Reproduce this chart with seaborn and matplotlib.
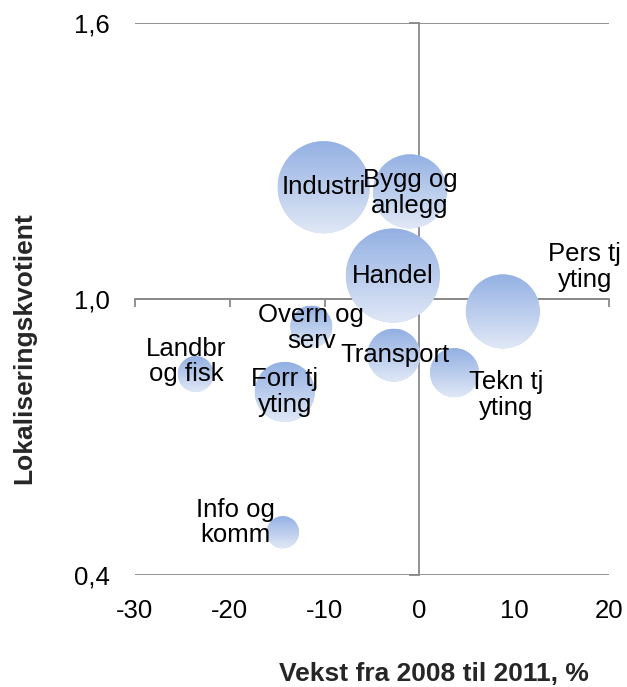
import numpy as np
import pandas as pd
import matplotlib
matplotlib.use("Agg")
import matplotlib.pyplot as plt
import seaborn as sns
from matplotlib.colors import LinearSegmentedColormap
from matplotlib.patches import Circle
from matplotlib.transforms import Affine2D, ScaledTranslation
from matplotlib.ticker import FuncFormatter

# Data
sectors = ["Industri", "Bygg og\nanlegg", "Handel", "Pers tj\nyting", "Overn og\nserv",
           "Transport", "Tekn tj\nyting", "Landbr\nog fisk", "Forr tj\nyting", "Info og\nkomm"]
growth = [-10.1, -1.0, -2.8, 8.8, -11.4, -2.7, 3.7, -23.6, -14.2, -14.4]
lq = [1.243, 1.234, 1.051, 0.973, 0.940, 0.878, 0.840, 0.837, 0.798, 0.493]
bubble = [2120, 1370, 2210, 1370, 440, 700, 600, 320, 900, 260]

x_ticks = [-30, -20, -10, 0, 10, 20]
y_ticks = [0.4, 1.0, 1.6]

# label offsets from bubble centre (points, right / up)
label_offsets = [(0, 0), (0, -1), (0, 0), (59, 32), (0, -1),
                 (1, 0), (37, -16), (-7, 9), (0, 0), (-34, 7)]

sns.set_theme(style="white")
plt.rcParams["font.family"] = ["Liberation Sans", "DejaVu Sans"]
plt.rcParams["axes.unicode_minus"] = False

grey = "#898989"
top_blue = "#93B0E3"
bottom_blue = "#E0E8F6"
grad_cmap = LinearSegmentedColormap.from_list("bubble", [top_blue, bottom_blue])

df = pd.DataFrame({"sector": sectors, "growth": growth, "lq": lq, "bubble": bubble})

fig, ax = plt.subplots(figsize=(6.27, 6.87), dpi=100)
fig.subplots_adjust(left=0.2153, right=0.9713, bottom=0.163, top=0.9665)
ax.set_xlim(-30, 20)
ax.set_ylim(0.4, 1.6)

smax = 2.0736 * max(bubble)
sns.scatterplot(data=df, x="growth", y="lq", size="bubble", sizes=(0, smax),
                size_norm=(0, max(bubble)), color="#B9CBEE", edgecolor="none",
                legend=False, ax=ax, zorder=3)

# gradient fill on each bubble, clipped to the marker circle
coll = ax.collections[0]
grad = np.linspace(0, 1, 256).reshape(-1, 1)
for (px, py), s in zip(coll.get_offsets(), coll.get_sizes()):
    r = np.sqrt(s) / 2 * fig.dpi / 72
    trans = Affine2D() + ScaledTranslation(px, py, ax.transData)
    circ = Circle((0, 0), r, transform=trans)
    im = ax.imshow(grad, cmap=grad_cmap, extent=(-r, r, -r, r), origin="upper",
                   aspect="auto", transform=trans, interpolation="bilinear", zorder=4)
    im.set_clip_path(circ)

ax.set_xlim(-30, 20)
ax.set_ylim(0.4, 1.6)

for name, x, y, (dx, dy) in zip(sectors, growth, lq, label_offsets):
    ax.annotate(name, (x, y), xytext=(dx, dy), textcoords="offset points",
                ha="center", va="center", fontsize=18.5, linespacing=1.1,
                color="black", zorder=5)

# axes crossing at x=0 and y=1.0, labels kept at the low side
ax.spines["left"].set_visible(False)
ax.spines["bottom"].set_visible(False)
ax.spines["top"].set_position(("data", 1.0))
ax.spines["right"].set_position(("data", 0))
for side in ["top", "right"]:
    ax.spines[side].set_color(grey)
    ax.spines[side].set_linewidth(1.3)

ax.set_xticks(x_ticks)
ax.set_yticks(y_ticks)
ax.yaxis.set_major_formatter(FuncFormatter(lambda v, _: f"{v:.1f}".replace(".", ",")))
ax.tick_params(axis="x", bottom=False, top=True, labelbottom=True, labeltop=False,
               direction="in", length=6, width=1.3, color=grey, pad=17,
               labelsize=18.5, labelcolor="black")
ax.tick_params(axis="y", left=False, right=True, labelleft=True, labelright=False,
               direction="in", length=7, width=1.3, color=grey, pad=18,
               labelsize=18.5, labelcolor="black")

ax.set_axisbelow(True)
ax.yaxis.grid(True, color=grey, linewidth=1.3)
ax.xaxis.grid(False)

ax.set_xlabel("Vekst fra 2008 til 2011, %", fontsize=19, fontweight="bold")
ax.set_ylabel("Lokaliseringskvotient", fontsize=19, fontweight="bold")
ax.xaxis.set_label_coords(0.631, -0.179)
ax.xaxis.label.set_va("center")
ax.yaxis.set_label_coords(-0.234, 0.411)
ax.yaxis.label.set_va("center")

fig.savefig("out.png", dpi=100)
